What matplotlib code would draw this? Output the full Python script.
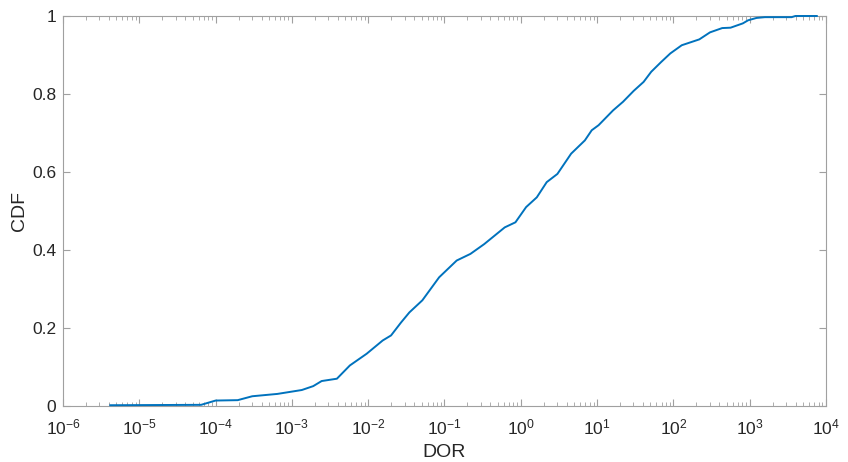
import numpy as np
import matplotlib.pyplot as plt
from matplotlib.ticker import LogLocator, NullFormatter

plt.rcParams['font.family'] = ['Liberation Sans', 'DejaVu Sans']
plt.rcParams['mathtext.fontset'] = 'custom'
plt.rcParams['mathtext.rm'] = 'Liberation Sans'
plt.rcParams['mathtext.it'] = 'Liberation Sans'

# --- CDF points (log10 DOR, CDF) ---
log_dor = [-5.38, -4.19, -4.00, -3.71, -3.52, -3.19, -2.87, -2.72, -2.61, -2.41,
           -2.24, -2.02, -1.81, -1.70, -1.57, -1.46, -1.29, -1.07, -0.84, -0.66,
           -0.48, -0.21, -0.07, 0.07, 0.21, 0.34, 0.48, 0.66, 0.84, 0.93,
           1.02, 1.21, 1.34, 1.48, 1.61, 1.71, 1.84, 1.96, 2.11, 2.34,
           2.48, 2.64, 2.75, 2.91, 2.98, 3.09, 3.20, 3.55, 3.60, 3.88]
cdf = [0.002, 0.003, 0.014, 0.015, 0.025, 0.031, 0.041, 0.051, 0.064, 0.070,
       0.104, 0.134, 0.168, 0.181, 0.214, 0.240, 0.271, 0.330, 0.373, 0.390,
       0.415, 0.458, 0.471, 0.510, 0.535, 0.574, 0.595, 0.647, 0.681, 0.707,
       0.720, 0.758, 0.780, 0.808, 0.831, 0.857, 0.882, 0.904, 0.925, 0.940,
       0.958, 0.969, 0.970, 0.981, 0.989, 0.995, 0.997, 0.997, 1.000, 1.000]

dor = 10.0 ** np.array(log_dor)

text_col = '#262626'
axis_col = '#a0a0a0'

fig = plt.figure(figsize=(8.48, 4.62), dpi=100)
ax = fig.add_axes([0.0743, 0.1212, 0.8997, 0.8442])

ax.plot(dor, cdf, color=(0, 0.447, 0.741), linewidth=1.4, clip_on=False, zorder=5)

ax.set_xscale('log')
ax.set_xlim(1e-6, 1e4)
ax.set_ylim(0, 1)
ax.xaxis.set_major_locator(LogLocator(base=10, numticks=20))
ax.xaxis.set_minor_locator(LogLocator(base=10, subs=np.arange(2, 10), numticks=20))
ax.xaxis.set_minor_formatter(NullFormatter())
ax.set_yticks([0, 0.2, 0.4, 0.6, 0.8, 1])
ax.set_yticklabels(['0', '0.2', '0.4', '0.6', '0.8', '1'])

for s in ax.spines.values():
    s.set_color(axis_col)
    s.set_linewidth(0.8)

ax.tick_params(which='both', direction='in', top=True, right=True,
               color=axis_col, labelcolor=text_col, labelsize=12.5)
ax.tick_params(axis='x', which='major', pad=8)
ax.tick_params(axis='y', which='major', pad=5)
ax.tick_params(which='major', length=5, width=0.8)
ax.tick_params(which='minor', length=3, width=0.6)

ax.set_xlabel('DOR', fontsize=14, color=text_col, labelpad=5)
ax.set_ylabel('CDF', fontsize=14, color=text_col, labelpad=3)

plt.savefig('out.png', dpi=100)
